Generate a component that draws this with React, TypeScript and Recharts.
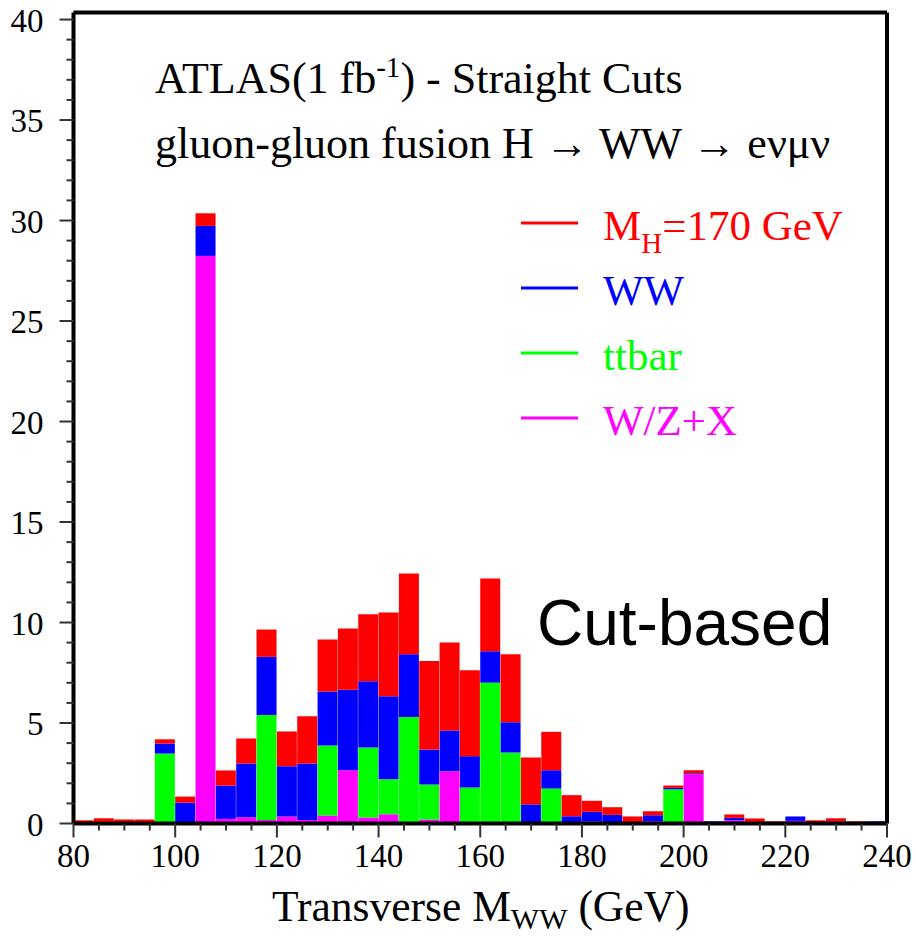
import { BarChart, Bar, XAxis, YAxis, ReferenceLine, Legend } from 'recharts';

// bin low edges (GeV), 4 GeV wide
const binLow = [
  80, 84, 88, 92, 96, 100, 104, 108, 112, 116, 120, 124, 128, 132, 136, 140, 144, 148, 152, 156,
  160, 164, 168, 172, 176, 180, 184, 188, 192, 196, 200, 204, 208, 212, 216, 220, 224, 228, 232, 236,
];

// per-process contributions, events per bin
const wzx = [
  0, 0, 0, 0, 0, 0.06, 28.24, 0.23, 0.31, 0.18, 0.35, 0.18, 0.4, 2.65, 0.3, 0.46, 0.08, 0.2, 2.6, 0.08,
  0.05, 0.05, 0, 0, 0, 0.1, 0, 0, 0.11, 0, 2.45, 0, 0.16, 0, 0, 0.13, 0, 0, 0.06, 0,
];
const ttbar = [
  0, 0, 0, 0, 3.48, 0, 0, 0, 0, 5.22, 0, 0, 3.48, 0, 3.48, 1.74, 5.22, 1.74, 0, 1.71,
  6.96, 3.48, 0, 1.74, 0, 0, 0, 0, 0, 1.7, 0, 0, 0, 0, 0, 0, 0, 0, 0, 0,
];
const ww = [
  0.02, 0.06, 0.02, 0.07, 0.5, 0.98, 1.49, 1.66, 2.67, 2.89, 2.5, 2.81, 2.69, 4.0, 3.3, 4.13, 3.12, 1.74, 2.03, 1.56,
  1.56, 1.51, 0.95, 0.91, 0.36, 0.48, 0.43, 0, 0.3, 0.07, 0.05, 0.11, 0.12, 0.08, 0, 0.22, 0, 0.1, 0, 0.11,
];
const higgs = [
  0.14, 0.2, 0.18, 0.13, 0.21, 0.3, 0.63, 0.75, 1.25, 1.36, 1.73, 2.35, 2.58, 3.05, 3.33, 4.17, 4.02, 4.41, 4.37, 4.28,
  3.62, 3.38, 2.33, 1.91, 1.05, 0.55, 0.38, 0.35, 0.2, 0.12, 0.15, 0, 0.17, 0.17, 0.11, 0, 0.16, 0.16, 0.05, 0,
];

const xTicks = [
  80, 85, 90, 95, 100, 105, 110, 115, 120, 125, 130, 135, 140, 145, 150, 155, 160,
  165, 170, 175, 180, 185, 190, 195, 200, 205, 210, 215, 220, 225, 230, 235, 240,
];
const yTicks = [
  0, 1, 2, 3, 4, 5, 6, 7, 8, 9, 10, 11, 12, 13, 14, 15, 16, 17, 18, 19, 20,
  21, 22, 23, 24, 25, 26, 27, 28, 29, 30, 31, 32, 33, 34, 35, 36, 37, 38, 39, 40,
];
const yMax = 40.35;

const data = binLow.map((lo, i) => ({
  lo,
  wzx: wzx[i],
  ttbar: ttbar[i],
  ww: ww[i],
  higgs: higgs[i],
}));

const SERIF = '"Liberation Serif", "Times New Roman", serif';
const SANS = '"Liberation Sans", Arial, sans-serif';

const RED = '#ff0000';
const BLUE = '#0000ff';
const GREEN = '#00ff00';
const MAGENTA = '#ff00ff';

function XTick(props: any) {
  const { x, y, payload } = props;
  const major = payload.value % 20 === 0;
  return (
    <g>
      <line x1={x} x2={x} y1={y} y2={y + (major ? 14 : 7)} stroke="#333" strokeWidth={2} />
      {major && (
        <text x={x} y={y + 43} textAnchor="middle" fontFamily={SERIF} fontSize={33} fill="#000">
          {payload.value}
        </text>
      )}
    </g>
  );
}

function YTick(props: any) {
  const { x, y, payload } = props;
  const major = payload.value % 5 === 0;
  return (
    <g>
      <line x1={x - (major ? 14 : 7)} x2={x} y1={y} y2={y} stroke="#333" strokeWidth={2} />
      {major && (
        <text x={x - 30} y={y + 12} textAnchor="end" fontFamily={SERIF} fontSize={33} fill="#000">
          {payload.value}
        </text>
      )}
    </g>
  );
}

const legendOrder = ['higgs', 'ww', 'ttbar', 'wzx'];

function renderLegend(props: any) {
  const items = [...(props.payload || [])].sort(
    (a: any, b: any) => legendOrder.indexOf(a.dataKey) - legendOrder.indexOf(b.dataKey)
  );
  return (
    <svg width={360} height={250}>
      {items.map((it: any, i: number) => {
        const ly = 28 + i * 65;
        return (
          <g key={it.dataKey}>
            <line x1={6} x2={63} y1={ly} y2={ly} stroke={it.color} strokeWidth={3} />
            <text x={88} y={ly + 17} fontFamily={SERIF} fontSize={43} fill={it.color}>
              {it.dataKey === 'higgs' ? (
                <>
                  M
                  <tspan fontSize={29} dy={13}>H</tspan>
                  <tspan dy={-13}>=170 GeV</tspan>
                </>
              ) : (
                it.value
              )}
            </text>
          </g>
        );
      })}
    </svg>
  );
}

export default function App() {
  return (
    <div style={{ position: 'relative', width: 916, height: 940, background: '#fff' }}>
      <style>{'body{margin:0}'}</style>
      <BarChart
        width={916}
        height={940}
        data={data}
        barCategoryGap={0}
        barGap={0}
        margin={{ top: 12.5, right: 29, left: 0, bottom: 0 }}
      >
        <XAxis
          xAxisId="gev"
          dataKey="lo"
          type="number"
          domain={[80, 240]}
          ticks={xTicks}
          interval={0}
          height={116.5}
          tickSize={0}
          tickMargin={0}
          tick={<XTick />}
          axisLine={{ stroke: '#000', strokeWidth: 4 }}
        />
        <XAxis dataKey="lo" hide height={0} />
        <YAxis
          type="number"
          domain={[0, yMax]}
          ticks={yTicks}
          interval={0}
          width={73.5}
          tickSize={0}
          tickMargin={0}
          tick={<YTick />}
          axisLine={{ stroke: '#000', strokeWidth: 4 }}
        />
        <Legend
          layout="vertical"
          align="center"
          verticalAlign="middle"
          content={renderLegend}
          wrapperStyle={{ position: 'absolute', left: 515, top: 195, width: 360, height: 250 }}
        />
        <Bar dataKey="wzx" name="W/Z+X" stackId="a" fill={MAGENTA} isAnimationActive={false} />
        <Bar dataKey="ttbar" name="ttbar" stackId="a" fill={GREEN} isAnimationActive={false} />
        <Bar dataKey="ww" name="WW" stackId="a" fill={BLUE} isAnimationActive={false} />
        <Bar dataKey="higgs" name="MH=170 GeV" stackId="a" fill={RED} isAnimationActive={false} />
        <ReferenceLine xAxisId="gev" x={240} stroke="#000" strokeWidth={4} />
        <ReferenceLine y={yMax} stroke="#000" strokeWidth={4} />
      </BarChart>
      <svg
        width={916}
        height={940}
        style={{ position: 'absolute', left: 0, top: 0, pointerEvents: 'none' }}
      >
        <text x={155} y={93} fontFamily={SERIF} fontSize={44} fill="#000">
          ATLAS(1 fb
          <tspan fontSize={29} dy={-16}>-1</tspan>
          <tspan dy={16}>) - Straight Cuts</tspan>
        </text>
        <text x={155} y={158} fontFamily={SERIF} fontSize={44} fill="#000">
          gluon-gluon fusion H → WW → eνμν
        </text>
        <text x={537} y={645} fontFamily={SANS} fontSize={64} fill="#000">
          Cut-based
        </text>
        <text x={272} y={921} fontFamily={SERIF} fontSize={43.5} fill="#000">
          Transverse M
          <tspan fontSize={30} dy={8}>WW</tspan>
          <tspan dy={-8}> (GeV)</tspan>
        </text>
      </svg>
    </div>
  );
}
